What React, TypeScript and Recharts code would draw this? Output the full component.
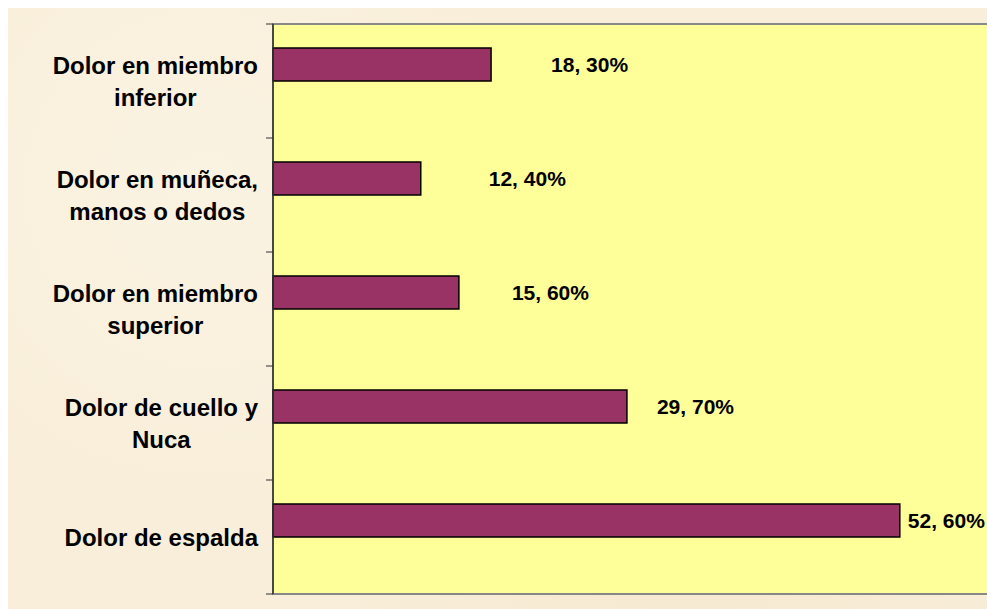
import React from 'react';
import {
  BarChart,
  Bar,
  XAxis,
  YAxis,
  ReferenceArea,
  LabelList,
} from 'recharts';

// categories top to bottom, "\n" marks the wrap point of the axis label
const categories = [
  'Dolor en miembro\ninferior',
  'Dolor en muñeca,\nmanos o dedos',
  'Dolor en miembro\nsuperior',
  'Dolor de cuello y\nNuca',
  'Dolor de espalda',
];

const percentages = [18.3, 12.4, 15.6, 29.7, 52.6];

const data = categories.map((name, i) => ({ name, value: percentages[i] }));

// hand-placed label gaps (px after the bar end), like the moved labels in the original
const labelGaps = [60, 68, 53, 30, 8];

const FONT = 'Arial, "Liberation Sans", Helvetica, sans-serif';

let canvasCtx: CanvasRenderingContext2D | null = null;
const measure = (text: string, font: string) => {
  if (!canvasCtx) canvasCtx = document.createElement('canvas').getContext('2d');
  if (!canvasCtx) return text.length * 12;
  canvasCtx.font = font;
  return canvasCtx.measureText(text).width;
};

const CategoryTick = (props: any) => {
  const { x, y, payload, index } = props;
  const lines = String(payload.value).split('\n');
  const maxW = Math.max(...lines.map((l) => measure(l, `bold 24px ${FONT}`)));
  const cx = x - maxW / 2;
  const lineH = 32;
  const startY = y - ((lines.length - 1) * lineH) / 2;
  const half = payload.offset || 57;
  // tick text sits tickSize + tickMargin left of the axis line
  const axisX = x + 15;
  return (
    <g>
      <line x1={axisX - 7} x2={axisX} y1={y - half} y2={y - half} stroke="#333" strokeWidth={1} />
      {index === categories.length - 1 && (
        <line x1={axisX - 7} x2={axisX} y1={y + half} y2={y + half} stroke="#333" strokeWidth={1} />
      )}
      <text
        x={cx}
        y={startY}
        textAnchor="middle"
        fontFamily={FONT}
        fontSize={24}
        fontWeight="bold"
        fill="#000"
      >
        {lines.map((l, i) => (
          <tspan key={i} x={cx} y={startY + i * lineH} dominantBaseline="central">
            {l}
          </tspan>
        ))}
      </text>
    </g>
  );
};

const ValueLabel = (props: any) => {
  const { x, y, width, height, value, index } = props;
  const txt = `${Number(value).toFixed(2).replace('.', ', ')}%`;
  return (
    <text
      x={x + width + labelGaps[index]}
      y={y + height / 2}
      dominantBaseline="central"
      fontFamily={FONT}
      fontSize={21}
      fontWeight="bold"
      fill="#000"
    >
      {txt}
    </text>
  );
};

export default function App() {
  return (
    <div
      style={{
        position: 'absolute',
        left: 8,
        top: 8,
        width: 979,
        height: 601,
        overflow: 'hidden',
        background:
          'radial-gradient(circle at 20% 30%, #fbf3e2 0%, transparent 40%), radial-gradient(circle at 70% 80%, #f6e8cf 0%, transparent 45%), #f8eed9',
      }}
    >
      <BarChart
        width={990}
        height={601}
        data={data}
        layout="vertical"
        margin={{ top: 16, right: 10, bottom: 15, left: 0 }}
        barGap={0}
      >
        <XAxis type="number" domain={[0, 60]} hide />
        <YAxis
          type="category"
          dataKey="name"
          width={265}
          tickLine={false}
          tickMargin={8}
          tickSize={7}
          axisLine={{ stroke: '#333', strokeWidth: 1.5 }}
          tick={<CategoryTick />}
          interval={0}
        />
        <ReferenceArea x1={0} x2={60} fill="#ffff99" fillOpacity={1} stroke="#888" strokeWidth={2} />
        <Bar
          dataKey="value"
          barSize={33}
          fill="#993366"
          stroke="#000"
          strokeWidth={1.5}
          isAnimationActive={false}
        >
          <LabelList dataKey="value" content={<ValueLabel />} />
        </Bar>
        {/* empty second slot so the bar sits in the upper half of each band */}
        <Bar dataKey="spacer" barSize={33} fill="none" isAnimationActive={false} />
      </BarChart>
    </div>
  );
}
